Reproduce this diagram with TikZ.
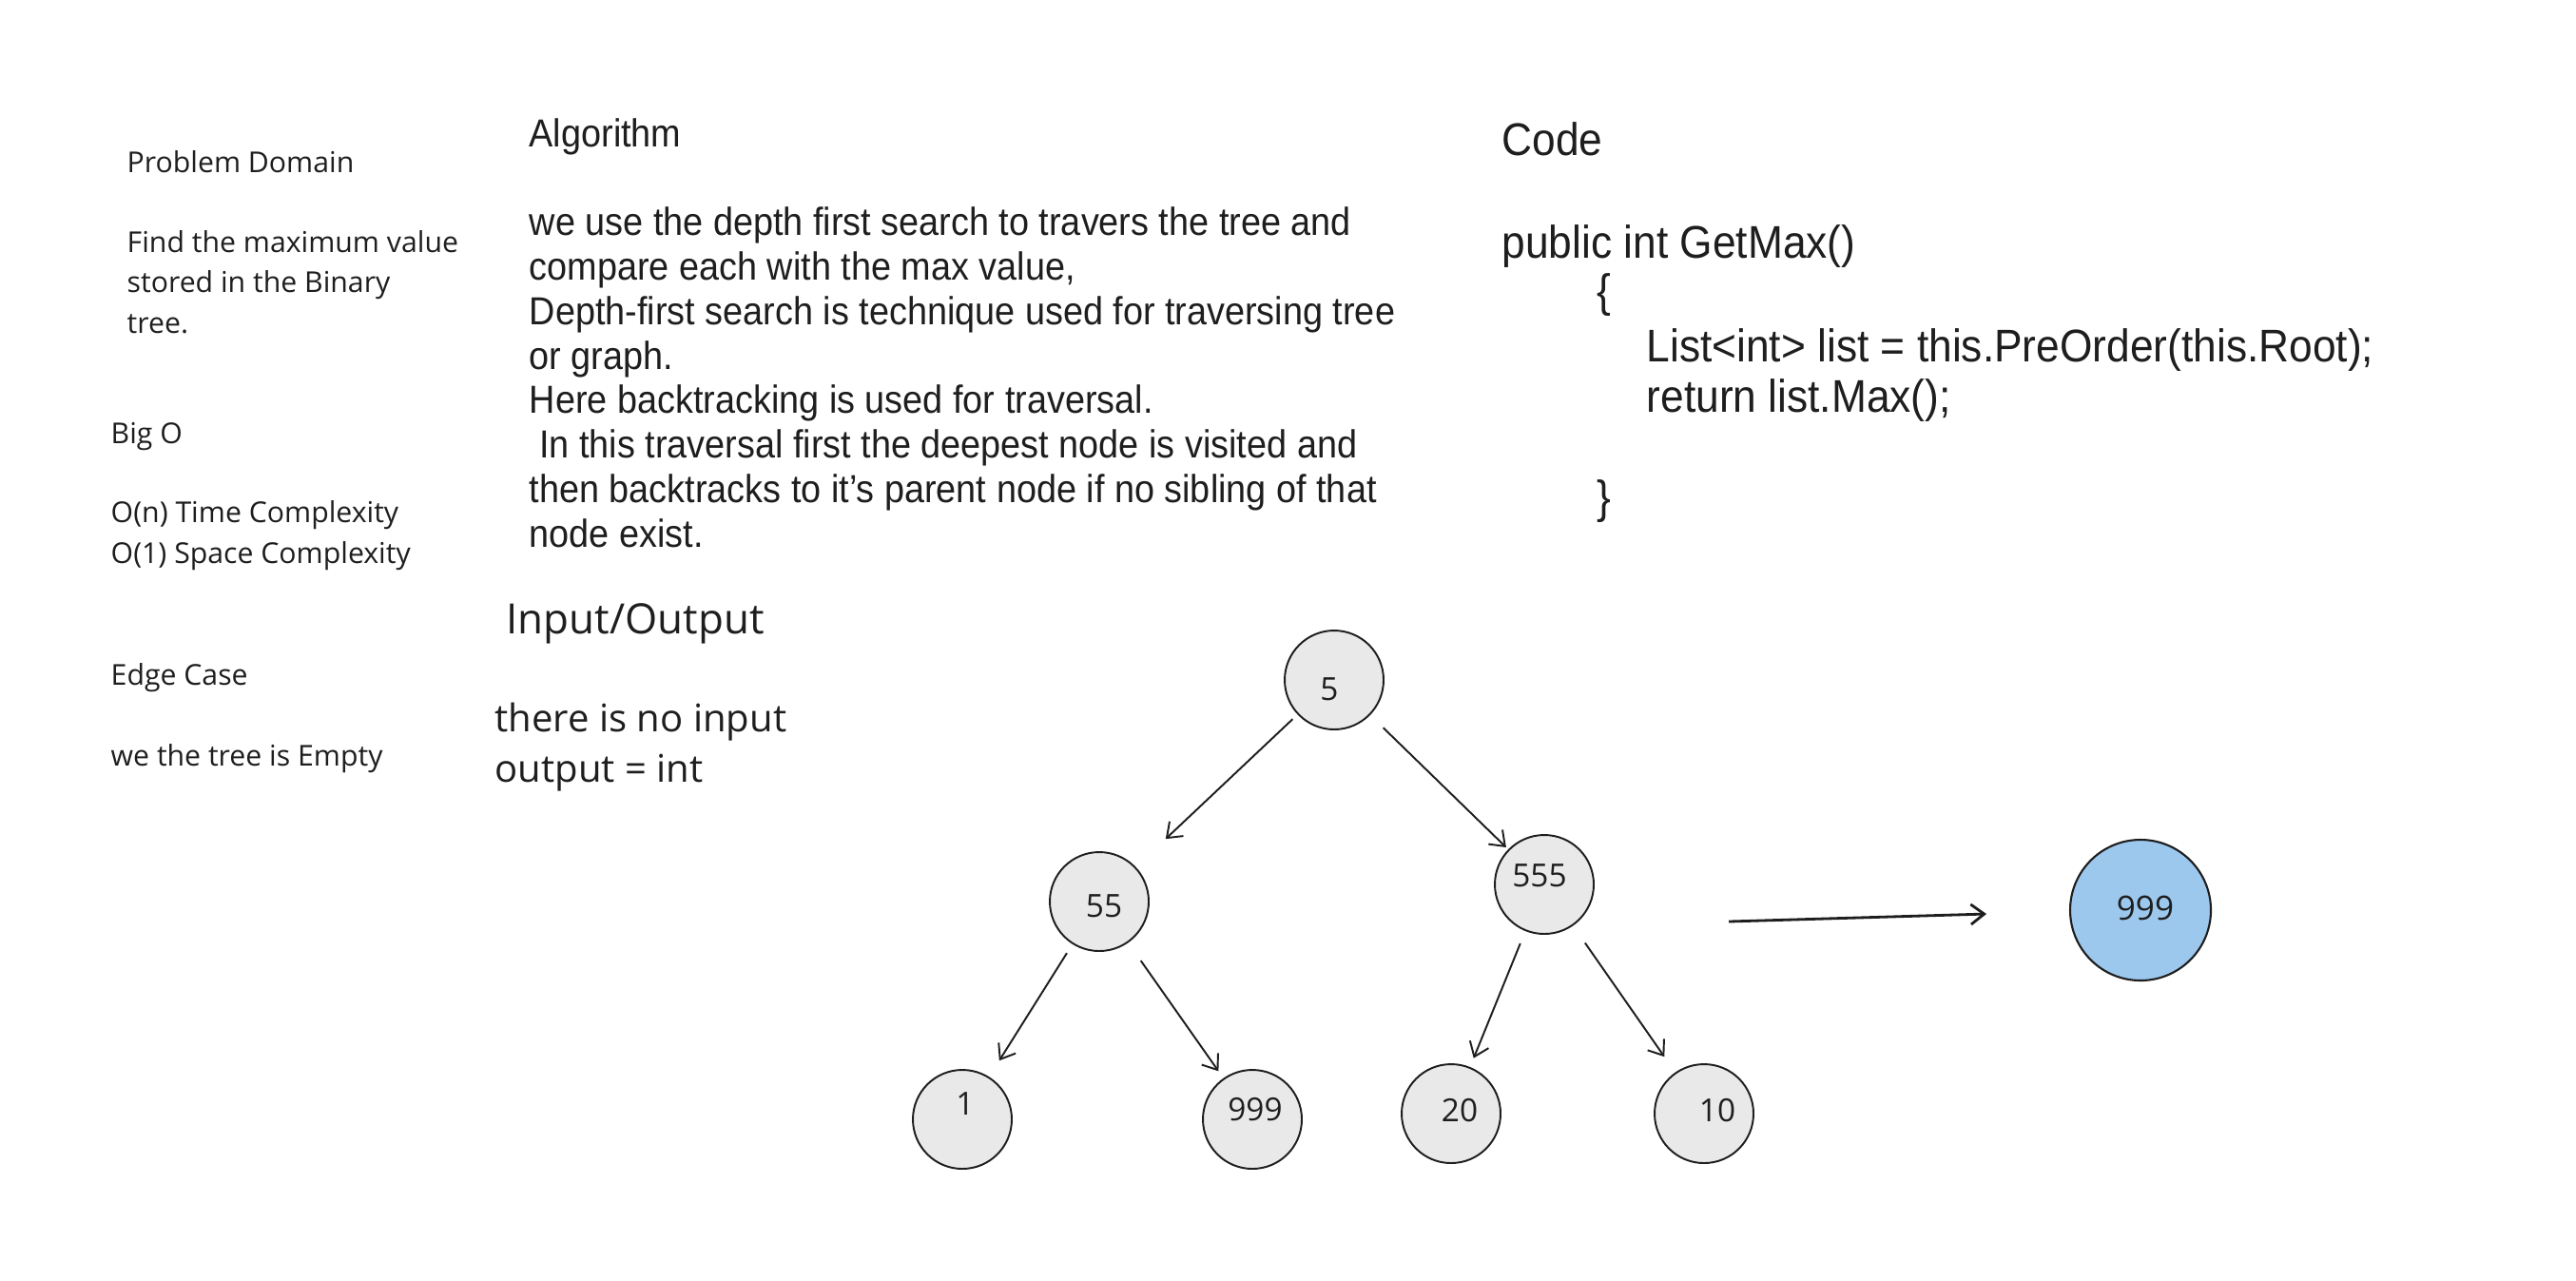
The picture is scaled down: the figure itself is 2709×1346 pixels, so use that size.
\documentclass[tikz,border=0pt]{standalone}
\usepackage{fontspec}
\setmainfont{Open Sans}
\newfontfamily\handc[FakeStretch=0.92]{Liberation Sans}
\usetikzlibrary{arrows.meta}
\definecolor{ink}{HTML}{1E1E1E}
\definecolor{nodegrey}{HTML}{E9E9E9}
\definecolor{nodeblue}{HTML}{9CC8EE}
\tikzset{
  treenode/.style={circle, draw=ink, line width=0.55pt, fill=nodegrey, minimum size=10.4mm, inner sep=0pt},
  resnode/.style={circle, draw=ink, line width=0.6pt, fill=nodeblue, minimum size=14.8mm, inner sep=0pt},
  digit/.style={inner sep=0pt, text=ink, font=\fontsize{9.5}{11}\selectfont},
  edgearrow/.style={draw=ink, line width=0.55pt, -{Straight Barb[length=4pt,width=6pt]}},
  lefttext/.style={anchor=base west, inner sep=0pt, align=left, text=ink, font=\fontsize{8.6}{12}\selectfont},
  iotext/.style={anchor=base west, inner sep=0pt, align=left, text=ink, font=\fontsize{11.4}{15}\selectfont},
  algotext/.style={anchor=base west, inner sep=0pt, align=left, text=ink, font=\handc\fontsize{11.7}{13.3}\selectfont},
  codetext/.style={anchor=base west, inner sep=0pt, align=left, text=ink, font=\handc\fontsize{13.7}{15}\selectfont}
}
\begin{document}
\begin{tikzpicture}[x=0.1mm,y=-0.1mm]
\useasboundingbox[fill=white] (0,0) rectangle (2709,1346);

% left column (multi-line nodes are anchored at the baseline of their last line)
\node[lefttext] (pd) at (133,181) {Problem Domain};
\node[lefttext] (pdtxt) at (133,350) {Find the maximum value\\stored in the Binary\\tree.};
\node[lefttext] (bigo) at (116,466) {Big O};
\node[lefttext] (bigotxt) at (116,592) {O(n) Time Complexity\\O(1) Space Complexity};
\node[lefttext] (edge) at (116,720) {Edge Case};
\node[lefttext] (edgetxt) at (116,805) {we the tree is Empty};

% algorithm
\node[algotext] (alg) at (556,154) {Algorithm};
\node[algotext] (algtxt) at (556,575) {we use the depth first search to travers the tree and\\
compare each with the max value,\\
Depth-first search is technique used for traversing tree\\
or graph.\\
Here backtracking is used for traversal.\\
\ In this traversal first the deepest node is visited and\\
then backtracks to it’s parent node if no sibling of that\\
node exist.};

% input / output
\node[iotext, font=\fontsize{12.5}{15}\selectfont] (io) at (532,666) {Input/Output};
\node[iotext] (iotxt) at (520,822) {there is no input\\output = int};

% code
\node[codetext] (code) at (1579,163) {Code};
\node[codetext] (sig) at (1579,271) {public int GetMax()};
\node[codetext] (ob) at (1679,322) {\{};
\node[codetext] (body) at (1731,433) {List<int> list = this.PreOrder(this.Root);\\return list.Max();};
\node[codetext] (cb) at (1679,539) {\}};

% tree
\node[treenode, label={[digit, xshift=-0.5mm, yshift=-1.0mm]center:5}] (n5) at (1403,715) {};
\node[treenode, label={[digit, xshift=0.5mm, yshift=-0.5mm]center:55}] (n55) at (1156,948) {};
\node[treenode, label={[digit, xshift=-0.5mm, yshift=0.9mm]center:555}] (n555) at (1624,930) {};
\node[treenode, label={[digit, xshift=0.3mm, yshift=1.6mm]center:1}] (n1) at (1012,1177) {};
\node[treenode, label={[digit, xshift=0.3mm, yshift=1.0mm]center:999}] (n999) at (1317,1177) {};
\node[treenode, label={[digit, xshift=0.9mm, yshift=0.3mm]center:20}] (n20) at (1526,1171) {};
\node[treenode, label={[digit, xshift=1.4mm, yshift=0.3mm]center:10}] (n10) at (1792,1171) {};
\node[resnode, label={[digit, font=\fontsize{10}{12}\selectfont, xshift=0.5mm, yshift=0.2mm]center:999}] (res) at (2251,957) {};

\draw[edgearrow, shorten <=0.7mm, shorten >=4.3mm] (n5) -- (n55);
\draw[edgearrow, shorten <=1.9mm, shorten >=0.3mm] (n5) -- (n555);
\draw[edgearrow, shorten <=1.1mm, shorten >=2.0mm] (n55) -- (n1);
\draw[edgearrow, shorten <=2.3mm, shorten >=0.9mm] (n55) -- (n999);
\draw[edgearrow, shorten <=1.4mm, shorten >=1.0mm] (n555) -- (n20);
\draw[edgearrow, shorten <=2.2mm, shorten >=2.0mm] (n555) -- (n10);

\coordinate (fa) at (1818,969);
\coordinate (fb) at (2089,961);
\draw[edgearrow, line width=0.8pt] (fa) -- (fb);
\end{tikzpicture}
\end{document}
